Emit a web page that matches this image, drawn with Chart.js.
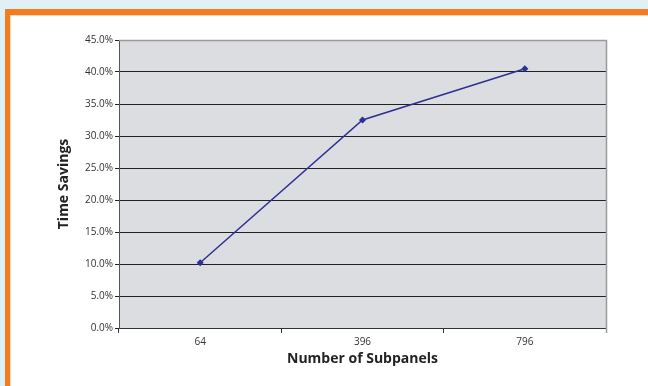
<!DOCTYPE html>
<html>
<head>
<meta charset="utf-8">
<script src="https://cdn.jsdelivr.net/npm/chart.js@4/dist/chart.umd.min.js"></script>
<style>
  html, body { margin: 0; padding: 0; background: #dff1f4; }
  #frame { position: absolute; left: 5px; top: 9px; width: 643px; height: 377px; background: #f47b20; }
  #inner { position: absolute; left: 10px; top: 15px; width: 638px; height: 371px; background: #fff; border-left: 1px solid #fcd9bd; border-top: 1px solid #fcd9bd; }
  #wrap { position: absolute; left: 0; top: 0; width: 648px; height: 386px; }
</style>
</head>
<body>
<div id="frame"></div>
<div id="inner"></div>
<div id="wrap"><canvas id="myChart" width="648" height="386"></canvas></div>
<script>
// subpanels vs time savings
var subpanels = ['64', '396', '796'];
var timeSavings = [0.102, 0.325, 0.405];
var yTicks = [0, 0.05, 0.10, 0.15, 0.20, 0.25, 0.30, 0.35, 0.40, 0.45];

// grey plot area + thin border on top/right
var plotBg = {
    id: 'plotBg',
    beforeDraw: function(chart) {
        var ctx = chart.ctx, a = chart.chartArea;
        ctx.save();
        ctx.fillStyle = '#dcdde0';
        ctx.fillRect(a.left, a.top, a.right - a.left, a.bottom - a.top);
        ctx.restore();
    },
    afterDatasetsDraw: function(chart) {
        var ctx = chart.ctx, a = chart.chartArea;
        ctx.save();
        ctx.strokeStyle = '#9a9a9a';
        ctx.lineWidth = 1.5;
        ctx.beginPath();
        ctx.moveTo(a.left, a.top + 0.5);
        ctx.lineTo(a.right + 0.5, a.top + 0.5);
        ctx.lineTo(a.right + 0.5, a.bottom + 5);
        ctx.stroke();
        ctx.restore();
    }
};

var myChart = document.getElementById('myChart').getContext('2d');

var chart = new Chart(myChart, {
    type: 'line',
    data: {
        labels: subpanels,
        datasets: [{
            label: 'Time Savings',
            data: timeSavings,
            borderColor: '#2e3192',
            backgroundColor: '#2e3192',
            borderWidth: 1.5,
            pointStyle: 'rectRot',
            pointRadius: 2.5,
            fill: false,
            tension: 0
        }]
    },
    options: {
        responsive: false,
        animation: false,
        layout: { padding: { left: 56, top: 40, right: 42, bottom: 19 } },
        plugins: {
            legend: { display: false },
            tooltip: { enabled: false }
        },
        scales: {
            x: {
                offset: true,
                grid: {
                    offset: true,
                    drawOnChartArea: false,
                    color: '#333',
                    tickLength: 5
                },
                border: { color: '#333' },
                ticks: {
                    color: '#333',
                    font: { family: 'Open Sans', size: 10 },
                    padding: 3
                },
                title: {
                    display: true,
                    text: 'Number of Subpanels',
                    color: '#222',
                    font: { family: 'Open Sans', size: 14, weight: 'bold' },
                    padding: { top: 4, bottom: 0 }
                },
                afterFit: function(scale) { scale.height = 39; }
            },
            y: {
                min: 0,
                max: 0.45,
                afterBuildTicks: function(scale) {
                    scale.ticks = yTicks.map(function(v) { return { value: v }; });
                },
                grid: {
                    color: '#222',
                    tickLength: 4
                },
                border: { color: '#555' },
                ticks: {
                    color: '#333',
                    font: { family: 'Open Sans', size: 10 },
                    padding: 2,
                    callback: function(v) { return (v * 100).toFixed(1) + '%'; }
                },
                title: {
                    display: true,
                    text: 'Time Savings',
                    color: '#222',
                    font: { family: 'Open Sans', size: 14, weight: 'bold' },
                    padding: { top: 0, bottom: 6 }
                },
                afterFit: function(scale) { scale.width = 63; }
            }
        }
    },
    plugins: [plotBg]
});
</script>
</body>
</html>
